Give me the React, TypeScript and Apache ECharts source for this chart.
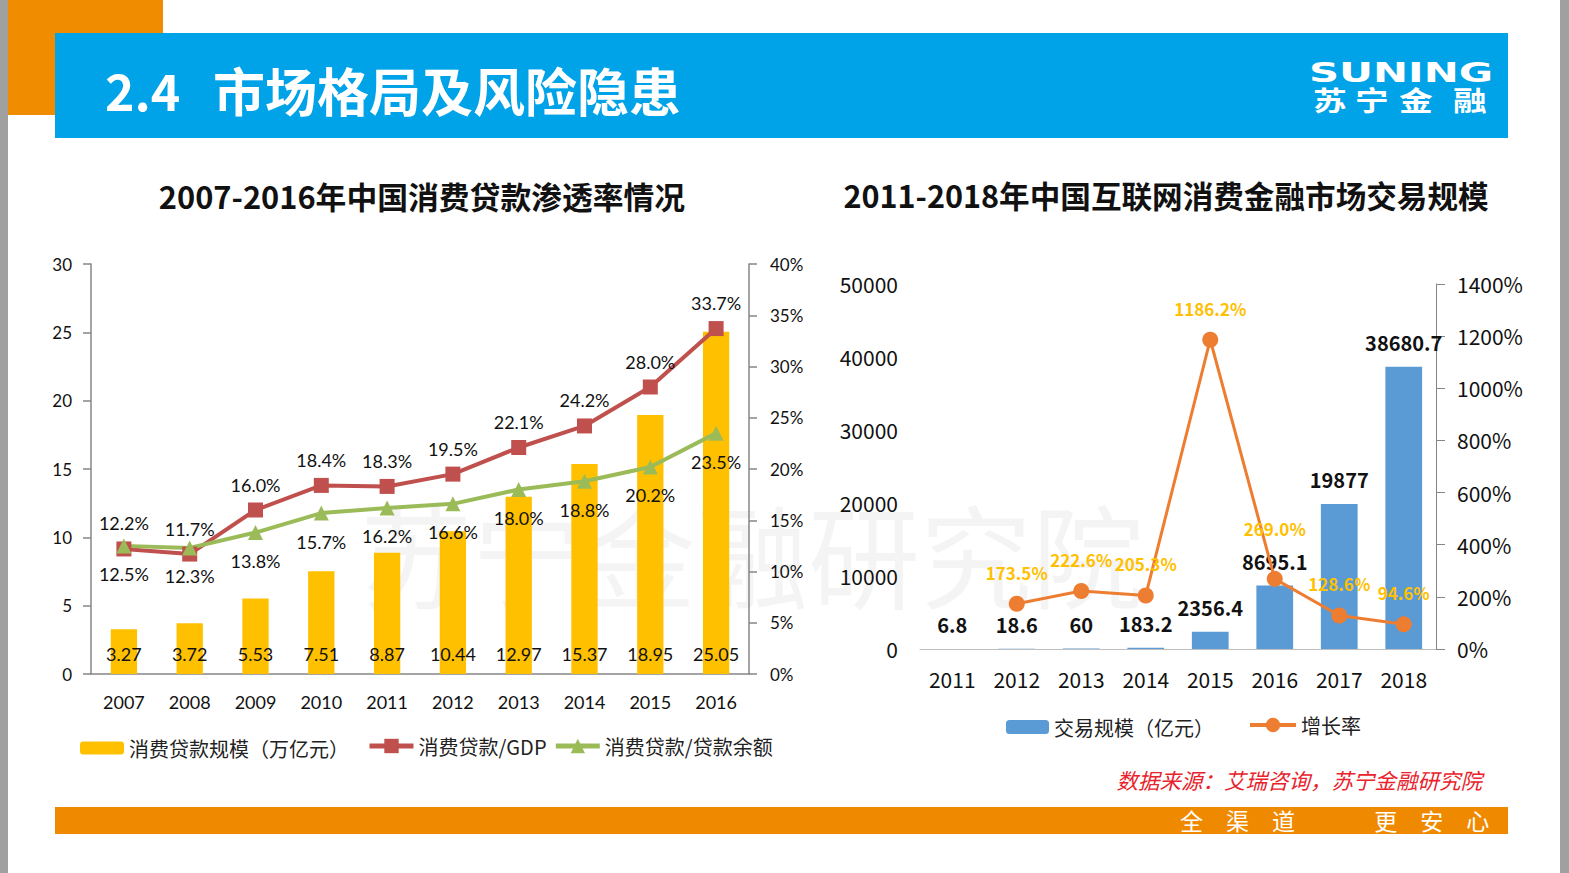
import React, { useEffect, useRef } from "react";
import * as echarts from "echarts";

// ---- Left chart data ----
const leftYears = ["2007", "2008", "2009", "2010", "2011", "2012", "2013", "2014", "2015", "2016"];
const loanScale = [3.27, 3.72, 5.53, 7.51, 8.87, 10.44, 12.97, 15.37, 18.95, 25.05];
const loanToGdp = [12.2, 11.7, 16.0, 18.4, 18.3, 19.5, 22.1, 24.2, 28.0, 33.7];
const loanToBalance = [12.5, 12.3, 13.8, 15.7, 16.2, 16.6, 18.0, 18.8, 20.2, 23.5];
const leftNames = ["消费贷款规模（万亿元）", "消费贷款/GDP", "消费贷款/贷款余额"];

// ---- Right chart data ----
const rightYears = ["2011", "2012", "2013", "2014", "2015", "2016", "2017", "2018"];
const tradeScale = [6.8, 18.6, 60, 183.2, 2356.4, 8695.1, 19877, 38680.7];
const growthRate = [null, 173.5, 222.6, 205.3, 1186.2, 269.0, 128.6, 94.6];
const rightNames = ["交易规模（亿元）", "增长率"];

// ---- Texts ----
const headerNum = "2.4";
const headerTitle = "市场格局及风险隐患";
const leftTitle = "2007-2016年中国消费贷款渗透率情况";
const rightTitle = "2011-2018年中国互联网消费金融市场交易规模";
const logoEn = "SUNING";
const logoCn = ["苏", "宁", "金", "融"];
const sourceText = "数据来源：艾瑞咨询，苏宁金融研究院";
const footerText = "全　渠　道　　　  更　安　心";
const watermark = "苏宁金融研究院";

const CJK = "'Noto Sans CJK SC', 'Noto Sans', sans-serif";
const NUM = "Lato, 'Noto Sans CJK SC', sans-serif";
const AXIS_GRAY = "#868686";

export default function App() {
  const ref = useRef<HTMLDivElement>(null);

  useEffect(() => {
    if (!ref.current) return;
    const chart = echarts.init(ref.current, undefined, { renderer: "svg" });
    const logoCnX = [1330, 1372, 1416, 1470];
    const legendText = { fontSize: 20, color: "#222", fontFamily: CJK };

    const option: any = {
      animation: false,
      backgroundColor: "#ffffff",
      graphic: [
        { type: "rect", z: -10, shape: { x: 0, y: 0, width: 8, height: 873 }, style: { fill: "#A0A0A0" } },
        { type: "rect", z: -10, shape: { x: 1560, y: 0, width: 9, height: 873 }, style: { fill: "#A0A0A0" } },
        { type: "rect", z: -10, shape: { x: 8, y: 0, width: 155, height: 115 }, style: { fill: "#F08C00" } },
        { type: "rect", z: -9, shape: { x: 55, y: 33, width: 1453, height: 105 }, style: { fill: "#00A2E8" } },
        {
          type: "text", x: 105, y: 89,
          style: { text: headerNum, fill: "#fff", font: `bold 50px ${CJK}`, verticalAlign: "middle" },
        },
        {
          type: "text", x: 213, y: 89,
          style: { text: headerTitle, fill: "#fff", font: `bold 52px ${CJK}`, verticalAlign: "middle" },
        },
        {
          type: "text", x: 1401, y: 72, scaleX: 1.55,
          style: { text: logoEn, fill: "#fff", font: `bold 27px 'DejaVu Sans', sans-serif`, align: "center", verticalAlign: "middle" },
        },
        ...logoCn.map((c, i) => ({
          type: "text", x: logoCnX[i], y: 100, scaleX: 1.25,
          style: { text: c, fill: "#fff", font: `bold 27px ${CJK}`, align: "center", verticalAlign: "middle" },
        })),
        {
          type: "text", x: 752, y: 552, z: -5,
          style: { text: watermark, fill: "rgba(0,0,0,0.045)", font: `112px ${CJK}`, align: "center", verticalAlign: "middle" },
        },
        {
          type: "text", x: 422, y: 195,
          style: { text: leftTitle, fill: "#111", font: `bold 30.8px ${CJK}`, align: "center", verticalAlign: "middle" },
        },
        {
          type: "text", x: 1166, y: 195,
          style: { text: rightTitle, fill: "#111", font: `bold 30.6px ${CJK}`, align: "center", verticalAlign: "middle" },
        },
        {
          type: "text", x: 1482, y: 779,
          style: { text: sourceText, fill: "#E8232D", font: `italic 21.5px ${CJK}`, align: "right", verticalAlign: "middle" },
        },
        { type: "rect", z: -9, shape: { x: 55, y: 807, width: 1453, height: 27 }, style: { fill: "#EF8A00" } },
        {
          type: "text", x: 1180, y: 820,
          style: { text: footerText, fill: "#fff", font: `23px ${CJK}`, align: "left", verticalAlign: "middle" },
        },
      ],
      legend: [
        {
          data: [leftNames[0]],
          left: 75, top: 733,
          itemWidth: 44, itemHeight: 13,
          textStyle: legendText,
        },
        {
          data: [leftNames[1], leftNames[2]],
          left: 362, top: 731,
          itemWidth: 44, itemHeight: 18, itemGap: 7,
          lineStyle: { width: 5 },
          textStyle: legendText,
        },
        {
          data: [rightNames[0]],
          left: 1001, top: 712,
          itemWidth: 43, itemHeight: 14,
          textStyle: legendText,
        },
        {
          data: [rightNames[1]],
          left: 1243, top: 710,
          itemWidth: 46, itemHeight: 18,
          lineStyle: { width: 4 },
          textStyle: legendText,
        },
      ],
      grid: [
        { left: 91, top: 264, width: 658, height: 410 },
        { left: 920, top: 284, width: 516, height: 365 },
      ],
      xAxis: [
        {
          type: "category", gridIndex: 0, data: leftYears,
          axisLine: { lineStyle: { color: AXIS_GRAY, width: 1.5 } },
          axisTick: { length: 8, lineStyle: { color: AXIS_GRAY, width: 1.5 } },
          axisLabel: { margin: 19, fontSize: 18, color: "#111", fontFamily: NUM },
        },
        {
          type: "category", gridIndex: 1, data: rightYears,
          axisLine: { lineStyle: { color: "#BFBFBF", width: 1 } },
          axisTick: { show: false },
          axisLabel: { margin: 19, fontSize: 21, color: "#111", fontFamily: CJK },
        },
      ],
      yAxis: [
        {
          type: "value", gridIndex: 0, min: 0, max: 30, interval: 5,
          axisLine: { show: true, lineStyle: { color: AXIS_GRAY, width: 1.5 } },
          axisTick: { show: true, length: 8, lineStyle: { color: AXIS_GRAY, width: 1.5 } },
          splitLine: { show: false },
          axisLabel: { margin: 19, fontSize: 17, color: "#111", fontFamily: NUM },
        },
        {
          type: "value", gridIndex: 0, min: 0, max: 40, interval: 5, position: "right",
          axisLine: { show: true, lineStyle: { color: AXIS_GRAY, width: 1.5 } },
          axisTick: { show: true, length: 8, lineStyle: { color: AXIS_GRAY, width: 1.5 } },
          splitLine: { show: false },
          axisLabel: { margin: 21, fontSize: 17, color: "#111", fontFamily: NUM, formatter: "{value}%" },
        },
        {
          type: "value", gridIndex: 1, min: 0, max: 50000, interval: 10000,
          axisLine: { show: false },
          axisTick: { show: false },
          splitLine: { show: false },
          axisLabel: {
            margin: 22, fontSize: 21, color: "#111", fontFamily: CJK,
            formatter: (v: number) => String(v),
          },
        },
        {
          type: "value", gridIndex: 1, min: 0, max: 1400, interval: 200, position: "right",
          axisLine: { show: true, lineStyle: { color: AXIS_GRAY, width: 1 } },
          axisTick: { show: true, length: 9, lineStyle: { color: AXIS_GRAY, width: 1 } },
          splitLine: { show: false },
          axisLabel: {
            margin: 21, fontSize: 21, color: "#111", fontFamily: CJK,
            formatter: (v: number) => String(v) + "%",
          },
        },
      ],
      series: [
        {
          name: leftNames[0], type: "bar", xAxisIndex: 0, yAxisIndex: 0,
          data: loanScale, barWidth: "40%",
          itemStyle: { color: "#FFC000" },
          label: {
            show: true, position: "insideBottom", distance: 11,
            fontSize: 18, color: "#111", fontFamily: NUM,
            formatter: (p: any) => p.value.toFixed(2),
          },
        },
        {
          name: leftNames[1], type: "line", xAxisIndex: 0, yAxisIndex: 1,
          data: loanToGdp, symbol: "rect", symbolSize: 15,
          lineStyle: { color: "#C0504D", width: 4 },
          itemStyle: { color: "#C0504D" },
          label: {
            show: true, position: "top", distance: 9,
            fontSize: 18, color: "#111", fontFamily: NUM,
            formatter: (p: any) => p.value.toFixed(1) + "%",
          },
        },
        {
          name: leftNames[2], type: "line", xAxisIndex: 0, yAxisIndex: 1,
          data: loanToBalance, symbol: "triangle", symbolSize: 15,
          lineStyle: { color: "#9BBB59", width: 4 },
          itemStyle: { color: "#9BBB59" },
          label: {
            show: true, position: "bottom", distance: 12,
            fontSize: 18, color: "#111", fontFamily: NUM,
            formatter: (p: any) => p.value.toFixed(1) + "%",
          },
        },
        {
          name: rightNames[0], type: "bar", xAxisIndex: 1, yAxisIndex: 2,
          data: tradeScale, barWidth: "57%",
          itemStyle: { color: "#5B9BD5" },
          label: {
            show: true, position: "top", distance: 14,
            fontSize: 20, fontWeight: "bold", color: "#111", fontFamily: CJK,
            formatter: (p: any) => String(p.value),
          },
        },
        {
          name: rightNames[1], type: "line", xAxisIndex: 1, yAxisIndex: 3,
          data: growthRate.map((v, i) => (i === 5 ? { value: v, label: { distance: 34 } } : v)),
          symbol: "circle", symbolSize: 16,
          lineStyle: { color: "#ED7D31", width: 3 },
          itemStyle: { color: "#ED7D31" },
          label: {
            show: true, position: "top", distance: 15,
            fontSize: 17, fontWeight: "bold", color: "#FFC000", fontFamily: CJK,
            formatter: (p: any) => (p.value == null ? "" : Number(p.value).toFixed(1) + "%"),
          },
        },
      ],
    };

    chart.setOption(option);
    return () => chart.dispose();
  }, []);

  return (
    <div
      ref={ref}
      style={{ position: "absolute", left: 0, top: 0, width: 1569, height: 873, background: "#fff" }}
    />
  );
}
